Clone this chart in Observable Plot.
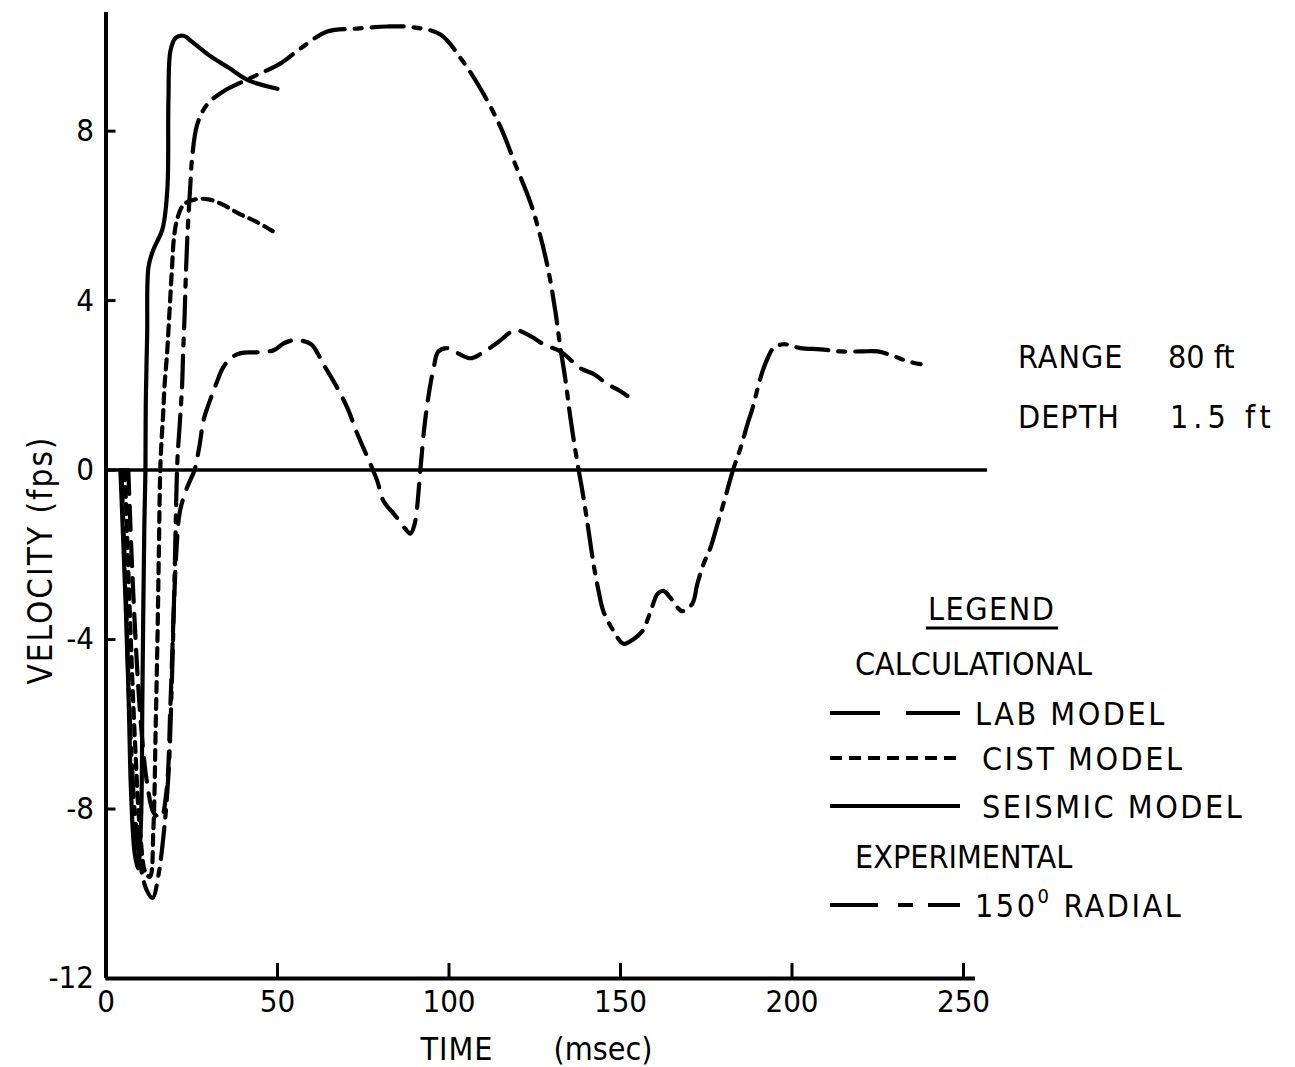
<!DOCTYPE html>
<html>
<head>
<meta charset="utf-8">
<script src="https://cdn.jsdelivr.net/npm/d3@7"></script>
<script src="https://cdn.jsdelivr.net/npm/@observablehq/plot@0.6"></script>
<style>
  html, body { margin: 0; padding: 0; background: #fff; }
  #chart { position: relative; width: 1295px; height: 1067px; }
  svg text { font-family: "DejaVu Sans Condensed", "DejaVu Sans", sans-serif; font-stretch: condensed; }
</style>
</head>
<body>
<div id="chart"></div>
<script>
// ---- Data ----
const xTicks = [0, 50, 100, 150, 200, 250];
const yTicks = [-12, -8, -4, 0, 4, 8];

// SEISMIC MODEL (solid)
const seismicTime = [4.2, 5.7, 6.6, 7.3, 8.3, 9.3, 10.2, 10.6, 10.9, 11.2, 11.5, 11.6, 12.0, 12.4, 13.8, 16.5, 17.9, 18.2, 18.8, 20.3, 22.6, 25.2, 29.9, 35.7, 41.5, 50];
const seismicVel  = [0, -3.1, -5.4, -7.6, -9.0, -9.4, -8.3, -5.4, -3.1, -1.2, 0, 1.6, 3.2, 4.8, 5.2, 5.7, 6.65, 8.7, 9.9, 10.2, 10.25, 10.1, 9.8, 9.5, 9.2, 9.0];

// CIST MODEL (short dashes)
const cistTime = [5.5, 7, 8.5, 10, 11.5, 12.8, 13.8, 14.5, 15.0, 15.4, 15.9, 16.7, 17.1, 17.8, 18.3, 18.8, 19.3, 19.8, 20.8, 22.7, 26.1, 29.9, 33.9, 38.6, 43.6, 48.6];
const cistVel  = [0, -3.5, -6.5, -8.6, -9.5, -9.6, -8.5, -6, -4, -2, 0.2, 1.39, 2.03, 2.74, 3.44, 4.15, 4.86, 5.47, 5.94, 6.27, 6.39, 6.39, 6.27, 6.06, 5.87, 5.64];

// LAB MODEL (long dashes)
const labTime = [6.5, 8, 10, 12, 14, 16, 17.6, 18.8, 19.8, 20.6, 21.5, 23, 24.5, 25.8, 27.2, 28.5, 30.3, 32.2, 34, 36.3, 39.3, 44, 48.9, 52, 55.4, 59.8, 61.8, 63.4, 67.5, 70.4, 73.3, 77.1, 79.1, 80.9, 84.4, 87.3, 88.7, 89.9, 91.7, 92.6, 93.8, 95.5, 96.9, 99.6, 102.5, 106.3, 109.2, 114, 119.4, 124, 128, 132.5, 138.4, 142.1, 146.2, 150, 152];
const labVel  = [0, -3, -5.8, -7.4, -8.1, -8.2, -7.6, -5.5, -3.2, -1.8, -1.0, -0.55, -0.25, 0.0, 0.55, 1.2, 1.64, 2.05, 2.4, 2.64, 2.76, 2.78, 2.83, 3.0, 3.07, 2.97, 2.74, 2.5, 1.93, 1.46, 0.85, 0.14, -0.26, -0.73, -1.08, -1.39, -1.5, -1.3, 0.05, 0.85, 1.63, 2.4, 2.8, 2.88, 2.76, 2.64, 2.74, 3.0, 3.3, 3.15, 2.95, 2.8, 2.4, 2.27, 2.03, 1.86, 1.75];

// EXPERIMENTAL 150° RADIAL (dash-dot)
const expTime = [4.5, 5.8, 7, 8.5, 10, 11.8, 13.6, 15.2, 16.8, 18.2, 19.2, 20.0, 20.8, 21.5, 22.2, 22.5, 22.9, 23.2, 23.7, 24.6, 25.1, 26.6, 29.5, 34.3, 41.2, 50.9, 56.7, 64.5, 73.2, 82, 89.7, 97.5, 103.4, 109.2, 115, 119.4, 123.8, 126.7, 129, 131, 132.5, 134, 135.4, 137.5, 138.9, 140.4, 142.1, 143.6, 145, 148, 150.9, 153.8, 156.4, 158.8, 160.8, 162.5, 164.6, 168, 170.9, 172.4, 174.2, 176.2, 178.3, 180, 183, 185, 187, 188.5, 190, 191.4, 192.9, 194.6, 197.5, 202.5, 208.3, 214.1, 220, 225, 229.6, 233.7, 237.5];
const expVel  = [0, -3, -6, -8.2, -9.3, -9.9, -10.1, -9.6, -8.6, -7.2, -5, -2.5, 0.2, 1.08, 2.03, 2.8, 3.6, 4.4, 5.47, 6.75, 7.36, 8.16, 8.63, 8.94, 9.22, 9.6, 9.95, 10.35, 10.42, 10.47, 10.45, 10.28, 9.72, 9.0, 8.1, 7.2, 6.3, 5.5, 4.7, 3.75, 2.88, 2.1, 1.23, 0.14, -0.5, -1.27, -2.2, -2.85, -3.33, -3.8, -4.1, -3.99, -3.8, -3.33, -2.92, -2.85, -3.02, -3.33, -3.16, -2.69, -2.22, -1.84, -1.27, -0.8, 0.05, 0.52, 1.08, 1.46, 1.93, 2.33, 2.64, 2.88, 2.97, 2.88, 2.85, 2.8, 2.8, 2.8, 2.69, 2.57, 2.5];

const seriesNames = ["LAB MODEL", "CIST MODEL", "SEISMIC MODEL", "150° RADIAL"];
const dashes = {"LAB MODEL": "24,12", "CIST MODEL": "10,7", "SEISMIC MODEL": null, "150° RADIAL": "32,10,7,10"};

const rangeText = ["RANGE", "80 ft"];
const depthText = ["DEPTH", "1.5 ft"];
const yLabel = "VELOCITY (fps)";
const xLabelParts = ["TIME", "(msec)"];

const toRows = (name, ts, vs) => ts.map((t, i) => ({series: name, t, v: vs[i]}));
const lab = toRows("LAB MODEL", labTime, labVel);
const cist = toRows("CIST MODEL", cistTime, cistVel);
const seismic = toRows("SEISMIC MODEL", seismicTime, seismicVel);
const exper = toRows("150° RADIAL", expTime, expVel);

const font = '"DejaVu Sans Condensed", "DejaVu Sans", sans-serif';

const lineOpts = (name) => ({
  x: "t", y: "v", stroke: "black", strokeWidth: 4.2, curve: "catmull-rom",
  strokeDasharray: dashes[name] || undefined, strokeLinecap: "round"
});

const plot = Plot.plot({
  width: 1295,
  height: 1067,
  marginLeft: 105.5,
  marginRight: 320,
  marginTop: 12,
  marginBottom: 89,
  style: {fontFamily: font, background: "white", color: "black"},
  x: {domain: [0, 253.5]},
  y: {domain: [-12, 10.8]},
  marks: [
    Plot.ruleX([0], {strokeWidth: 4}),
    Plot.ruleY([-12], {strokeWidth: 4}),
    Plot.ruleY([0], {x1: 0, x2: 257, strokeWidth: 3.5}),
    Plot.axisY(yTicks, {anchor: "left", tickSize: -10, tickPadding: 22, strokeWidth: 3,
      fontSize: 31, tickFormat: d => String(d), label: null}),
    Plot.axisX(xTicks, {anchor: "bottom", tickSize: -15, tickPadding: 26, strokeWidth: 3,
      fontSize: 31, tickFormat: d => String(d), label: null}),
    Plot.line(lab, lineOpts("LAB MODEL")),
    Plot.line(cist, lineOpts("CIST MODEL")),
    Plot.line(seismic, lineOpts("SEISMIC MODEL")),
    Plot.line(exper, lineOpts("150° RADIAL"))
  ]
});

document.getElementById("chart").appendChild(plot);

// ---- Annotations (axis titles, range/depth, legend) ----
const svg = d3.select(plot);
const g = svg.append("g").attr("font-family", font).attr("fill", "black")
  .attr("text-anchor", "start").attr("font-size", 32);

g.append("text").attr("transform", "translate(52,560) rotate(-90)")
  .attr("text-anchor", "middle").attr("font-size", 33).attr("letter-spacing", 2).text(yLabel);
g.append("text").attr("x", 457).attr("y", 1060).attr("text-anchor", "middle").attr("letter-spacing", 1).text(xLabelParts[0]);
g.append("text").attr("x", 603).attr("y", 1060).attr("text-anchor", "middle").text(xLabelParts[1]);

g.append("text").attr("x", 1018).attr("y", 368).attr("letter-spacing", 1).text(rangeText[0]);
g.append("text").attr("x", 1168).attr("y", 368).text(rangeText[1]);
g.append("text").attr("x", 1018).attr("y", 428).attr("letter-spacing", 1).text(depthText[0]);
g.append("text").attr("x", 1170).attr("y", 428).attr("letter-spacing", 5).text(depthText[1]);

// Legend
g.append("text").attr("x", 928).attr("y", 620).attr("letter-spacing", 1.5).text("LEGEND");
g.append("line").attr("x1", 926).attr("x2", 1058).attr("y1", 628).attr("y2", 628).attr("stroke", "black").attr("stroke-width", 3);
g.append("text").attr("x", 855).attr("y", 675).text("CALCULATIONAL");
g.append("text").attr("x", 855).attr("y", 868).text("EXPERIMENTAL");

const legendRows = [
  {name: "LAB MODEL", y: 713, tx: 975, dash: "50,26,60"},
  {name: "CIST MODEL", y: 758, tx: 982, dash: "12,7"},
  {name: "SEISMIC MODEL", y: 806, tx: 982, dash: null},
  {name: "150° RADIAL", y: 905, tx: 975, dash: "48,20,15,15,40"}
];
legendRows.forEach(r => {
  const ln = g.append("line").attr("x1", 830).attr("x2", 960).attr("y1", r.y).attr("y2", r.y)
    .attr("stroke", "black").attr("stroke-width", 4);
  if (r.dash) ln.attr("stroke-dasharray", r.dash);
  const t = g.append("text").attr("x", r.tx).attr("y", r.y + 12).attr("letter-spacing", 2.5);
  if (r.name === "150° RADIAL") {
    t.append("tspan").text("150");
    t.append("tspan").attr("dy", -14).attr("font-size", 20).text("0");
    t.append("tspan").attr("dy", 14).attr("dx", 12).text("RADIAL");
  } else {
    t.text(r.name);
  }
});
</script>
</body>
</html>
